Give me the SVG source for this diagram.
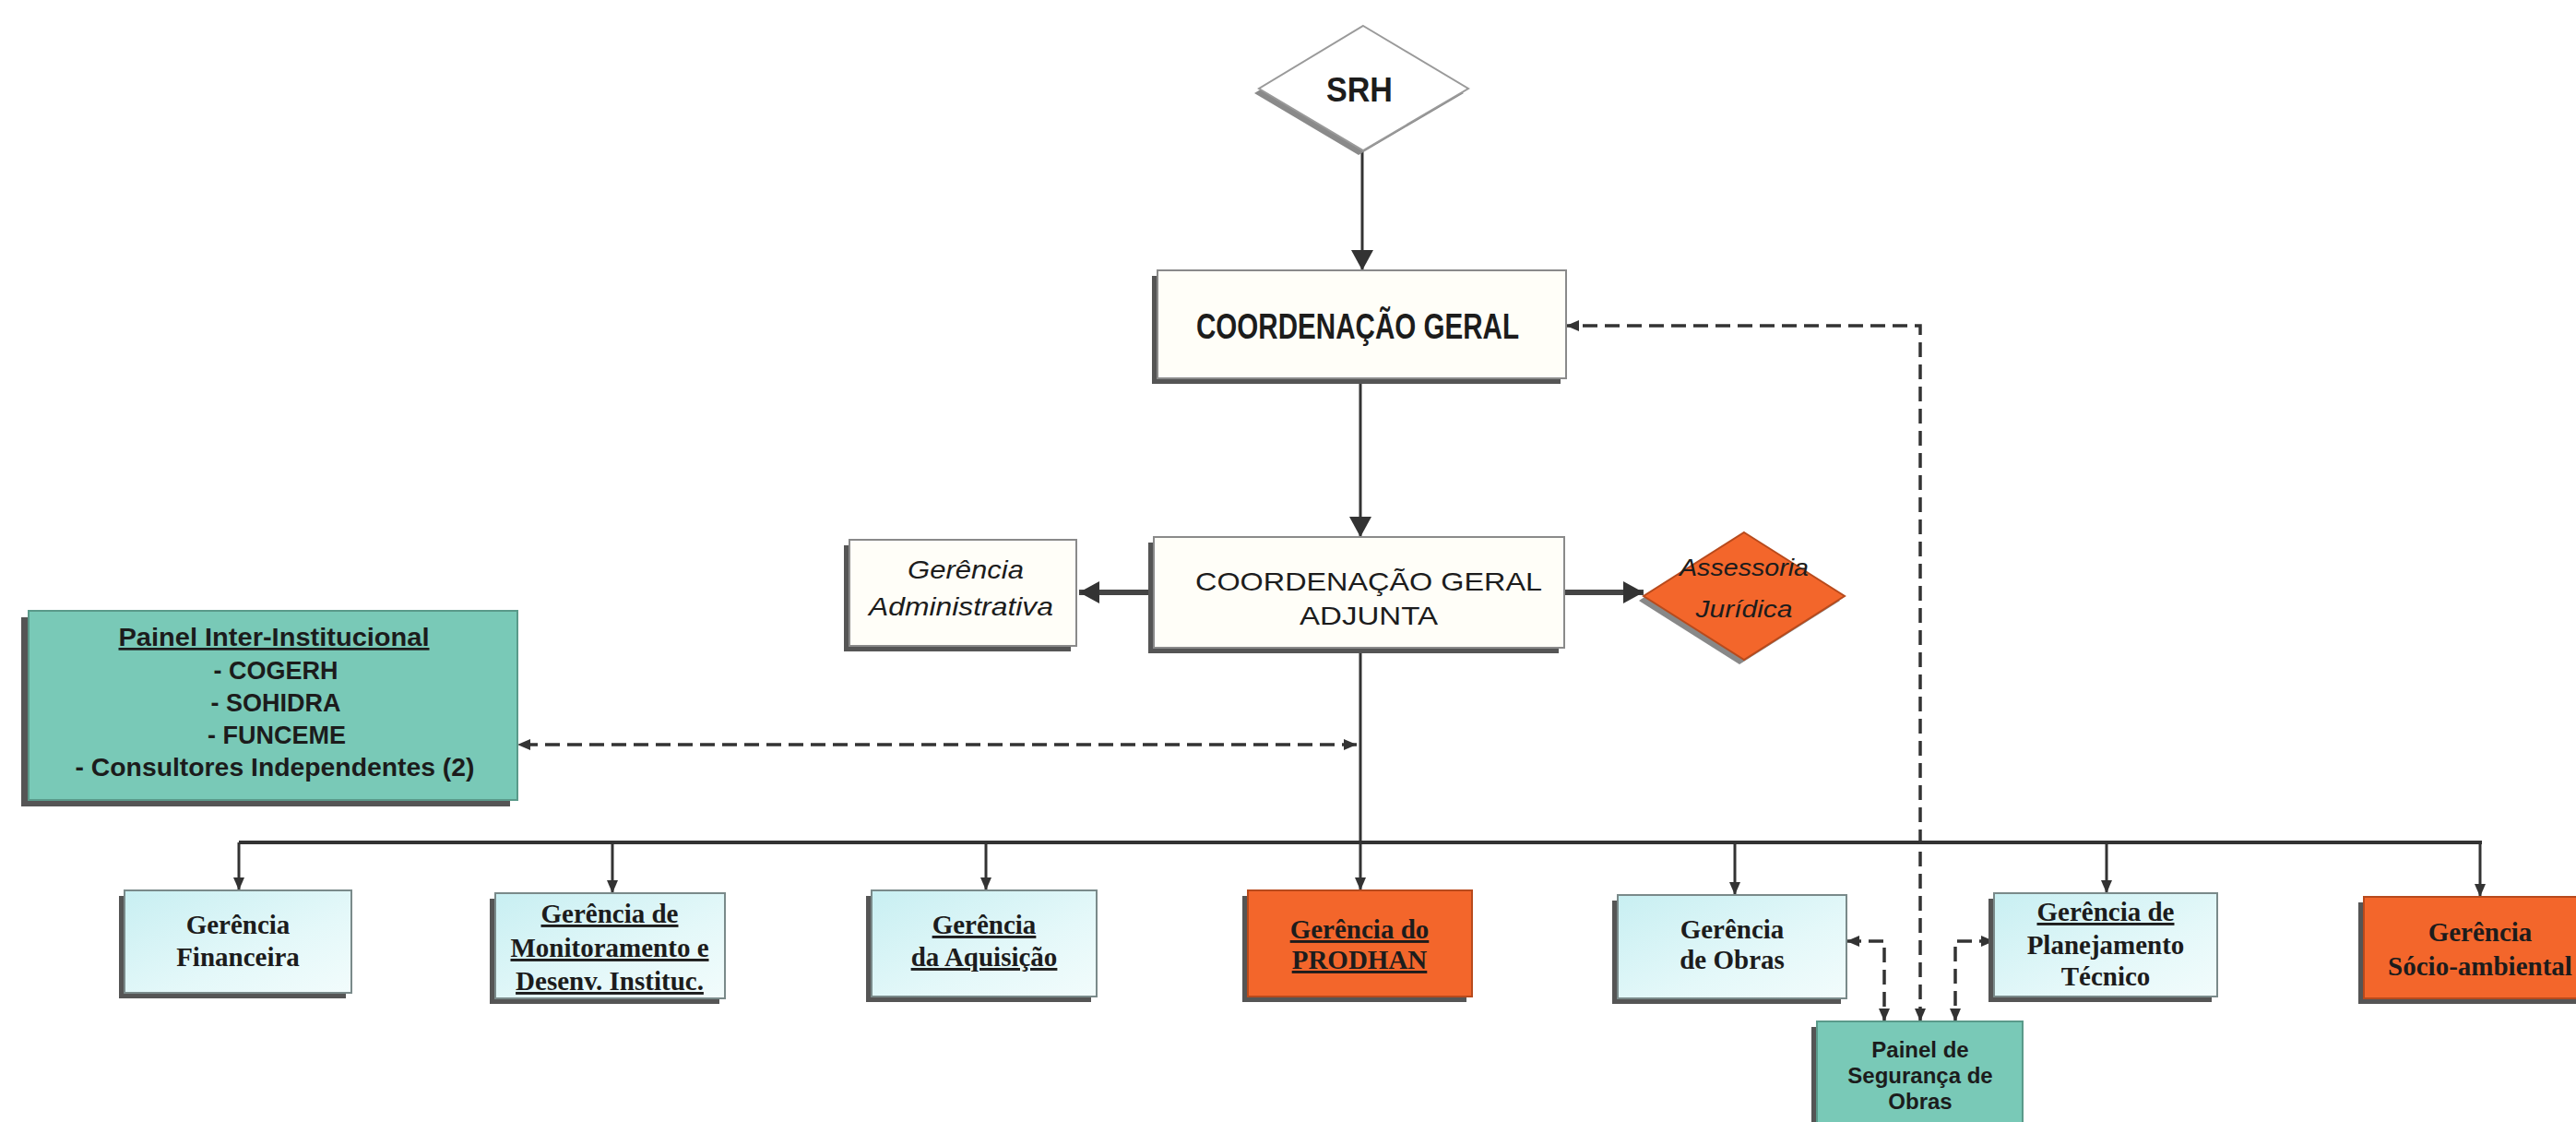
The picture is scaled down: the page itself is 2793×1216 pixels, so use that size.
<svg xmlns="http://www.w3.org/2000/svg" width="2793" height="1216" viewBox="0 0 2793 1216">
<style>
.bg{fill:#ffffff}
.sh{fill:#555555}
.wbox{fill:#fffef8;stroke:#8a8a8a;stroke-width:2}
.cbox{fill:url(#cyan);stroke:#7a8a8a;stroke-width:2}
.obox{fill:#f3662b;stroke:#b84a1c;stroke-width:2}
.tbox{fill:#79c9b7;stroke:#5a9a8a;stroke-width:2}
.ln{fill:none;stroke:#333333;stroke-width:3}
.bus{fill:none;stroke:#333333;stroke-width:4}
.thick{fill:none;stroke:#444444;stroke-width:6}
.dash{fill:none;stroke:#333333;stroke-width:3.5;stroke-dasharray:16 8}
.serif{font-family:"Liberation Serif","Times New Roman",serif;font-weight:bold;font-size:29px;fill:#1c1c1c;text-anchor:middle}
.sans{font-family:"Liberation Sans",Arial,sans-serif;fill:#1c1c1c;text-anchor:middle}
.u{text-decoration:underline}
</style>
<defs>
<linearGradient id="cyan" x1="0" y1="0" x2="1" y2="1">
<stop offset="0" stop-color="#c8eff2"/>
<stop offset="0.6" stop-color="#e4f8f9"/>
<stop offset="1" stop-color="#f2fcfc"/>
</linearGradient>
<marker id="big" markerUnits="userSpaceOnUse" markerWidth="22" markerHeight="24" viewBox="0 0 22 24" refX="22" refY="12" orient="auto-start-reverse">
<path d="M0,0 L22,12 L0,24 z" fill="#333333"/>
</marker>
<marker id="sm" markerUnits="userSpaceOnUse" markerWidth="14" markerHeight="12" viewBox="0 0 14 12" refX="14" refY="6" orient="auto-start-reverse">
<path d="M0,0 L14,6 L0,12 z" fill="#333333"/>
</marker>
</defs>
<rect class="bg" x="0" y="0" width="2793" height="1216"/>

<g id="connectors">
<path class="ln" d="M1477,163 L1477,293" marker-end="url(#big)"/>
<path class="ln" d="M1475,410 L1475,582" marker-end="url(#big)"/>
<path class="thick" d="M1251,642 L1170,642" marker-end="url(#big)"/>
<path class="thick" d="M1696,642 L1782,642" marker-end="url(#big)"/>
<path class="ln" d="M1475,702 L1475,965" marker-end="url(#sm)"/>
<path class="bus" d="M259,913 L2691,913"/>
<path class="ln" d="M259,913 L259,965" marker-end="url(#sm)"/>
<path class="ln" d="M664,913 L664,968" marker-end="url(#sm)"/>
<path class="ln" d="M1069,913 L1069,965" marker-end="url(#sm)"/>
<path class="ln" d="M1881,913 L1881,970" marker-end="url(#sm)"/>
<path class="ln" d="M2284,913 L2284,968" marker-end="url(#sm)"/>
<path class="ln" d="M2689,913 L2689,972" marker-end="url(#sm)"/>
<path class="dash" d="M1471,807 L561,807" marker-start="url(#sm)" marker-end="url(#sm)"/>
<path class="dash" d="M2082,1107 L2082,353 L1698,353" marker-start="url(#sm)" marker-end="url(#sm)"/>
<path class="dash" d="M2002,1020 L2043,1020 L2043,1107" marker-start="url(#sm)" marker-end="url(#sm)"/>
<path class="dash" d="M2162,1020 L2120,1020 L2120,1107" marker-start="url(#sm)" marker-end="url(#sm)"/>
</g>

<g id="srh">
<polygon points="1473,33 1587,101 1473,168 1360,101" fill="#8a8a8a"/>
<polygon points="1478,28 1592,96 1478,163 1365,96" fill="#ffffff" stroke="#9a9a9a" stroke-width="2"/>
<text class="sans" x="1474" y="110" font-size="36" font-weight="bold" textLength="72" lengthAdjust="spacingAndGlyphs" fill="#2a2a2a">SRH</text>
</g>

<g id="coordenacao-geral">
<rect class="sh" x="1249" y="299" width="443" height="117"/>
<rect class="wbox" x="1255" y="293" width="443" height="117"/>
<text class="sans" x="1472" y="367" font-size="38" font-weight="bold" textLength="350" lengthAdjust="spacingAndGlyphs">COORDENAÇÃO GERAL</text>
</g>

<g id="coordenacao-geral-adjunta">
<rect class="sh" x="1245" y="588" width="445" height="120"/>
<rect class="wbox" x="1251" y="582" width="445" height="120"/>
<text class="sans" x="1484" y="640" font-size="28" textLength="376" lengthAdjust="spacingAndGlyphs">COORDENAÇÃO GERAL</text>
<text class="sans" x="1484" y="677" font-size="28" textLength="150" lengthAdjust="spacingAndGlyphs">ADJUNTA</text>
</g>

<g id="gerencia-administrativa">
<rect class="sh" x="915" y="591" width="246" height="115"/>
<rect class="wbox" x="921" y="585" width="246" height="115"/>
<text class="sans" x="1047" y="627" font-size="28" font-style="italic" textLength="126" lengthAdjust="spacingAndGlyphs">Gerência</text>
<text class="sans" x="1042" y="667" font-size="28" font-style="italic" textLength="200" lengthAdjust="spacingAndGlyphs">Administrativa</text>
</g>

<g id="assessoria-juridica">
<polygon points="1886,582 1995,651 1886,720 1777,651" fill="#888888"/>
<polygon class="obox" points="1891,577 2000,646 1891,715 1782,646"/>
<text class="sans" x="1891" y="624" font-size="26" font-style="italic" textLength="140" lengthAdjust="spacingAndGlyphs">Assessoria</text>
<text class="sans" x="1891" y="669" font-size="26" font-style="italic" textLength="105" lengthAdjust="spacingAndGlyphs">Jurídica</text>
</g>

<g id="painel-inter-institucional">
<rect class="sh" x="23" y="669" width="530" height="205"/>
<rect class="tbox" x="31" y="662" width="530" height="205"/>
<text class="sans u" x="297" y="700" font-size="27" font-weight="bold" textLength="337" lengthAdjust="spacingAndGlyphs">Painel Inter-Institucional</text>
<text class="sans" x="299" y="736" font-size="27" font-weight="bold">- COGERH</text>
<text class="sans" x="299" y="771" font-size="27" font-weight="bold">- SOHIDRA</text>
<text class="sans" x="300" y="806" font-size="27" font-weight="bold">- FUNCEME</text>
<text class="sans" x="298" y="841" font-size="27" font-weight="bold" textLength="433" lengthAdjust="spacingAndGlyphs">- Consultores Independentes (2)</text>
</g>

<g id="gerencia-financeira">
<rect class="sh" x="129" y="971" width="246" height="111"/>
<rect class="cbox" x="135" y="965" width="246" height="111"/>
<text class="serif" x="258" y="1012">Gerência</text>
<text class="serif" x="258" y="1047">Financeira</text>
</g>

<g id="gerencia-monitoramento">
<rect class="sh" x="531" y="974" width="249" height="114"/>
<rect class="cbox" x="537" y="968" width="249" height="114"/>
<text class="serif u" x="661" y="1000">Gerência de</text>
<text class="serif u" x="661" y="1037">Monitoramento e</text>
<text class="serif u" x="661" y="1073">Desenv. Instituc.</text>
</g>

<g id="gerencia-aquisicao">
<rect class="sh" x="939" y="971" width="244" height="115"/>
<rect class="cbox" x="945" y="965" width="244" height="115"/>
<text class="serif u" x="1067" y="1012">Gerência</text>
<text class="serif u" x="1067" y="1047">da Aquisição</text>
</g>

<g id="gerencia-prodhan">
<rect class="sh" x="1347" y="971" width="243" height="115"/>
<rect class="obox" x="1353" y="965" width="243" height="115"/>
<text class="serif u" x="1474" y="1017">Gerência do</text>
<text class="serif u" x="1474" y="1050">PRODHAN</text>
</g>

<g id="gerencia-obras">
<rect class="sh" x="1748" y="976" width="248" height="112"/>
<rect class="cbox" x="1754" y="970" width="248" height="112"/>
<text class="serif" x="1878" y="1017">Gerência</text>
<text class="serif" x="1878" y="1050">de Obras</text>
</g>

<g id="gerencia-planejamento">
<rect class="sh" x="2156" y="974" width="242" height="112"/>
<rect class="cbox" x="2162" y="968" width="242" height="112"/>
<text class="serif u" x="2283" y="998">Gerência de</text>
<text class="serif" x="2283" y="1034">Planejamento</text>
<text class="serif" x="2283" y="1068">Técnico</text>
</g>

<g id="gerencia-socio-ambiental">
<rect class="sh" x="2557" y="978" width="252" height="110"/>
<rect class="obox" x="2563" y="972" width="252" height="110"/>
<text class="serif" x="2689" y="1020">Gerência</text>
<text class="serif" x="2689" y="1057">Sócio-ambiental</text>
</g>

<g id="painel-seguranca-obras">
<rect class="sh" x="1964" y="1113" width="223" height="130"/>
<rect class="tbox" x="1970" y="1107" width="223" height="130"/>
<text class="sans" x="2082" y="1146" font-size="24" font-weight="bold">Painel de</text>
<text class="sans" x="2082" y="1174" font-size="24" font-weight="bold">Segurança de</text>
<text class="sans" x="2082" y="1202" font-size="24" font-weight="bold">Obras</text>
</g>
</svg>
